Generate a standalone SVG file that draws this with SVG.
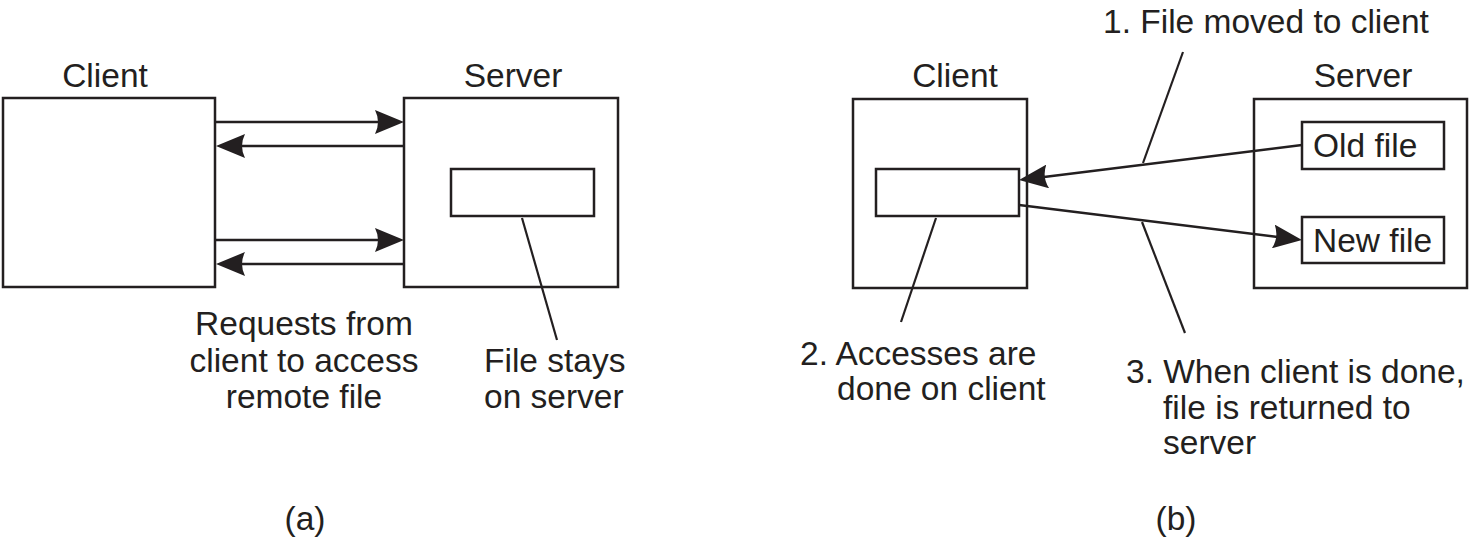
<svg xmlns="http://www.w3.org/2000/svg" width="1471" height="538" viewBox="0 0 1471 538">
<style>
  .box { fill: #ffffff; stroke: #231f20; stroke-width: 2.5; }
  .ln { fill: none; stroke: #231f20; stroke-width: 2.5; }
  .lead { fill: none; stroke: #231f20; stroke-width: 2.2; }
  text { font-family: "Liberation Sans", Arial, sans-serif; font-size: 33.5px; fill: #231f20; }
  .mid { text-anchor: middle; }
</style>
<defs>
  <marker id="ah" markerUnits="userSpaceOnUse" viewBox="0 0 29 24" refX="14" refY="12" markerWidth="29" markerHeight="24" orient="auto">
    <path d="M0,0 L29,12 L0,24 Q6,12 0,0 Z" fill="#231f20"/>
  </marker>
</defs>
<rect width="1471" height="538" fill="#ffffff"/>

<!-- (a) -->
<g id="a-client">
  <rect class="box" x="3" y="98" width="212" height="189"/>
  <text class="mid" x="105" y="87">Client</text>
</g>
<g id="a-server">
  <rect class="box" x="404" y="98" width="214" height="189"/>
  <text class="mid" x="513" y="87">Server</text>
  <rect class="box" x="451" y="169" width="143" height="47"/>
</g>
<g id="a-requests-label">
  <text class="mid" x="304" y="335">Requests from</text>
  <text class="mid" x="304" y="372">client to access</text>
  <text class="mid" x="304" y="408">remote file</text>
</g>
<g id="a-stays-label">
  <text x="484" y="372">File stays</text>
  <text x="484" y="408">on server</text>
</g>
<g id="a-caption">
  <text class="mid" x="305" y="530">(a)</text>
</g>

<!-- (b) -->
<g id="b-client">
  <rect class="box" x="853" y="99" width="174" height="189"/>
  <text class="mid" x="955" y="87">Client</text>
  <rect class="box" x="876" y="169" width="143" height="47"/>
</g>
<g id="b-server">
  <rect class="box" x="1254" y="99" width="213" height="189"/>
  <text class="mid" x="1363" y="87">Server</text>
</g>
<g id="b-oldfile">
  <rect class="box" x="1302" y="122" width="142" height="47"/>
  <text x="1313" y="157">Old file</text>
</g>
<g id="b-newfile">
  <rect class="box" x="1302" y="217" width="142" height="46"/>
  <text x="1313" y="252">New file</text>
</g>
<g id="b-label1">
  <text x="1103" y="33">1. File moved to client</text>
</g>
<g id="b-label2">
  <text x="800" y="365">2. Accesses are</text>
  <text x="837" y="400">done on client</text>
</g>
<g id="b-label3">
  <text x="1126" y="383">3. When client is done,</text>
  <text x="1163" y="419">file is returned to</text>
  <text x="1163" y="454">server</text>
</g>
<g id="b-caption">
  <text class="mid" x="1176" y="530">(b)</text>
</g>

<g id="connectors">
  <line class="ln" x1="216" y1="122" x2="389" y2="122" marker-end="url(#ah)"/>
  <line class="ln" x1="404" y1="146" x2="231" y2="146" marker-end="url(#ah)"/>
  <line class="ln" x1="216" y1="240" x2="389" y2="240" marker-end="url(#ah)"/>
  <line class="ln" x1="404" y1="264" x2="231" y2="264" marker-end="url(#ah)"/>
  <line class="lead" x1="522" y1="218" x2="557" y2="340"/>

  <line class="ln" x1="1302" y1="145" x2="1033.9" y2="178.2" marker-end="url(#ah)"/>
  <line class="ln" x1="1019" y1="205" x2="1287.1" y2="238.2" marker-end="url(#ah)"/>
  <line class="lead" x1="1183" y1="52" x2="1143" y2="163"/>
  <line class="lead" x1="1142" y1="222" x2="1185" y2="333"/>
  <line class="lead" x1="936" y1="218" x2="901" y2="322"/>
</g>
</svg>
